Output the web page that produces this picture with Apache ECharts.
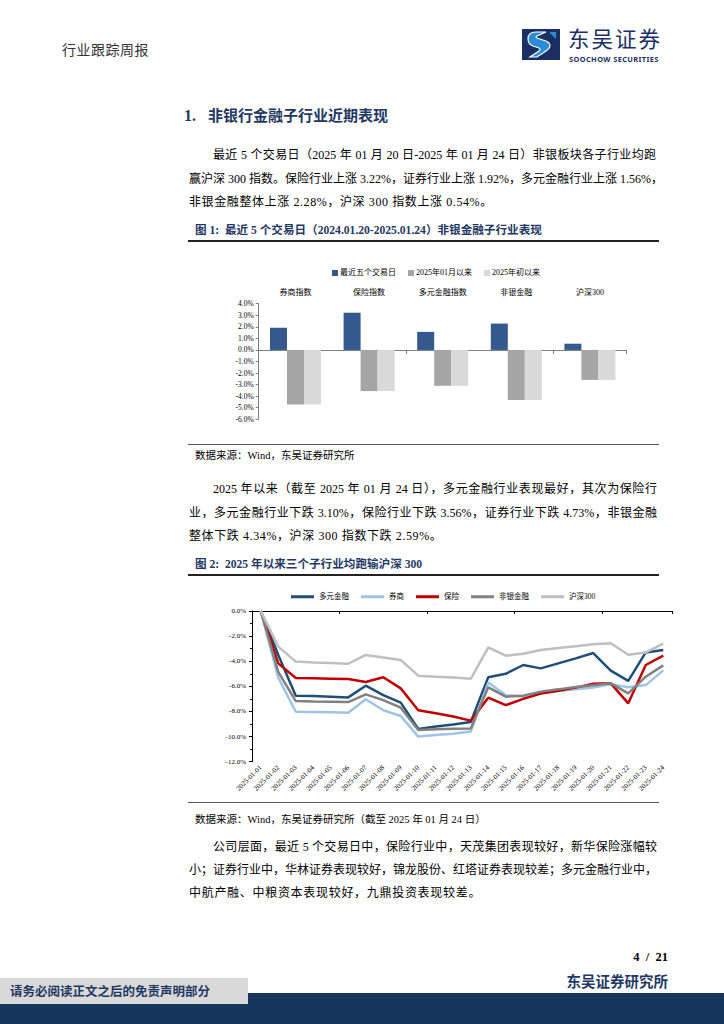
<!DOCTYPE html>
<html><head><meta charset="utf-8">
<script src="https://cdn.jsdelivr.net/npm/echarts@6/dist/echarts.min.js"></script>
<style>
html,body{margin:0;padding:0;background:#fff;}
body{width:724px;height:1024px;position:relative;overflow:hidden;font-family:"Liberation Serif","Noto Sans CJK SC",serif;color:#000;}
.abs{position:absolute;white-space:nowrap;}
.ln{position:absolute;font-size:12px;line-height:16px;height:16px;text-align:justify;text-align-last:justify;white-space:nowrap;}
.cap{position:absolute;font-size:11.6px;font-weight:bold;color:#1F3864;white-space:nowrap;line-height:14px;}
.rule{position:absolute;left:188px;width:471px;background:#222;}
.src{position:absolute;font-size:10.5px;white-space:nowrap;line-height:14px;}
</style></head>
<body>
<div class="abs" style="left:62px;top:39px;font-size:14px;color:#333;letter-spacing:0.5px;">行业跟踪周报</div>
<svg class="abs" style="left:522px;top:29px" width="38" height="31" viewBox="0 0 38 31">
<rect x="0" y="0" width="38" height="31" fill="#1B2F63"/>
<path d="M24 3 L14 3 Q6 3 6 10 Q6 15 11 17 L17 19 Q19 20 17 22 L8 28 L15 28 L24 22 Q30 18 27 14 Q25 12 21 11 L15 9 Q13 8 15 7 Z" fill="#2B8DD6" stroke="#fff" stroke-width="1.2"/>
<path d="M27 3 L34 3 L34 10 Z" fill="#2B8DD6"/>
</svg>
<div class="abs" style="left:568px;top:26px;font-size:21.5px;line-height:24px;height:24px;color:#1B2F63;letter-spacing:2px;font-family:'Noto Sans CJK SC';">东吴证券</div>
<div class="abs" style="left:569px;top:55px;font-size:7.4px;line-height:8px;font-weight:bold;color:#1B2F63;font-family:'Noto Sans','DejaVu Sans';letter-spacing:0.4px;">SOOCHOW SECURITIES</div>

<div class="abs" style="left:184px;top:106px;font-size:15px;line-height:18px;font-weight:bold;color:#1F3864;font-family:'Noto Sans CJK SC';"><span style="font-family:'Liberation Serif';font-size:16px;">1.</span><span style="display:inline-block;width:12px"></span>非银行金融子行业近期表现</div>

<div class="ln" style="left:213px;width:443px;top:147px;">最近 5 个交易日（2025 年 01 月 20 日-2025 年 01 月 24 日）非银板块各子行业均跑</div>
<div class="ln" style="left:189px;width:467px;top:171px;">赢沪深 300 指数。保险行业上涨 3.22%，证券行业上涨 1.92%，多元金融行业上涨 1.56%，</div>
<div class="abs" style="left:189px;top:194px;font-size:12px;line-height:16px;letter-spacing:0.6px;">非银金融整体上涨 2.28%，沪深 300 指数上涨 0.54%。</div>

<div class="cap" style="left:195px;top:224px;">图 1:&nbsp; 最近 5 个交易日（2024.01.20-2025.01.24）非银金融子行业表现</div>
<div class="rule" style="top:240px;height:1.5px;"></div>
<div id="c1" style="position:absolute;left:180px;top:245px;width:480px;height:195px;"></div>
<div class="rule" style="top:444px;height:1px;background:#555;"></div>
<div class="src" style="left:195px;top:449px;">数据来源：Wind，东吴证券研究所</div>

<div class="ln" style="left:213px;width:444px;top:481px;">2025 年以来（截至 2025 年 01 月 24 日），多元金融行业表现最好，其次为保险行</div>
<div class="ln" style="left:189px;width:468px;top:505px;">业，多元金融行业下跌 3.10%，保险行业下跌 3.56%，证券行业下跌 4.73%，非银金融</div>
<div class="abs" style="left:189px;top:528px;font-size:12px;line-height:16px;letter-spacing:0.6px;">整体下跌 4.34%，沪深 300 指数下跌 2.59%。</div>

<div class="cap" style="left:195px;top:558px;">图 2:&nbsp; 2025 年以来三个子行业均跑输沪深 300</div>
<div class="rule" style="top:574px;height:1.5px;"></div>
<div id="c2" style="position:absolute;left:200px;top:580px;width:480px;height:222px;"></div>
<div class="rule" style="top:802px;height:1px;background:#555;"></div>
<div class="src" style="left:195px;top:813px;">数据来源：Wind，东吴证券研究所（截至 2025 年 01 月 24 日）</div>

<div class="ln" style="left:213px;width:444px;top:839px;">公司层面，最近 5 个交易日中，保险行业中，天茂集团表现较好，新华保险涨幅较</div>
<div class="ln" style="left:189px;width:468px;top:862px;">小；证券行业中，华林证券表现较好，锦龙股份、红塔证券表现较差；多元金融行业中，</div>
<div class="abs" style="left:189px;top:885px;font-size:12px;line-height:16px;letter-spacing:0.7px;">中航产融、中粮资本表现较好，九鼎投资表现较差。</div>

<div class="abs" style="right:56px;top:950px;font-size:12.5px;font-weight:bold;line-height:15px;">4&nbsp;&nbsp;/&nbsp;&nbsp;21</div>
<div class="abs" style="right:56px;top:972px;font-size:14.5px;font-weight:bold;color:#1F3864;line-height:18px;font-family:'Noto Sans CJK SC';">东吴证券研究所</div>
<div class="abs" style="left:0;top:993px;width:724px;height:31px;background:#17365D;"></div>
<div class="abs" style="left:0;top:978px;width:248px;height:26px;background:#D9D9D9;"></div>
<div class="abs" style="left:10px;top:983px;font-size:12.5px;line-height:16px;font-weight:bold;color:#1F3864;font-family:'Noto Sans CJK SC';">请务必阅读正文之后的免责声明部分</div>

<script>
// ---- Figure 1 data ----
var barCategories = ['券商指数', '保险指数', '多元金融指数', '非银金融', '沪深300'];
var barSeriesNames = ['最近五个交易日', '2025年01月以来', '2025年初以来'];
var recent5 = [1.92, 3.22, 1.56, 2.28, 0.54];
var sinceJan = [-4.73, -3.56, -3.10, -4.34, -2.59];
var sinceYearStart = [-4.73, -3.56, -3.10, -4.34, -2.59];
var barYTicks = {min: -6, max: 4, interval: 1};

// ---- Figure 2 data ----
var dates = ['2025-01-01','2025-01-02','2025-01-03','2025-01-04','2025-01-05','2025-01-06','2025-01-07','2025-01-08','2025-01-09','2025-01-10','2025-01-11','2025-01-12','2025-01-13','2025-01-14','2025-01-15','2025-01-16','2025-01-17','2025-01-18','2025-01-19','2025-01-20','2025-01-21','2025-01-22','2025-01-23','2025-01-24'];
var lineNames = ['多元金融', '券商', '保险', '非银金融', '沪深300'];
var diversified = [0, -3.5, -6.74, -6.77, -6.82, -6.88, -5.95, -6.7, -7.3, -9.4, -9.2, -9.03, -8.84, -5.28, -5.0, -4.3, -4.57, -4.17, -3.77, -3.35, -4.75, -5.57, -3.3, -3.10];
var brokers = [0, -5.3, -8.02, -8.04, -8.07, -8.1, -7.03, -7.9, -8.36, -10.0, -9.88, -9.77, -9.6, -5.7, -6.7, -6.8, -6.55, -6.37, -6.24, -6.1, -5.84, -6.08, -5.9, -4.73];
var insurance = [0, -4.17, -5.34, -5.36, -5.39, -5.42, -5.65, -5.28, -6.16, -7.9, -8.15, -8.4, -8.73, -6.9, -7.5, -7.0, -6.58, -6.35, -6.1, -5.8, -5.76, -7.35, -4.3, -3.56];
var nonBank = [0, -4.85, -7.17, -7.2, -7.22, -7.25, -6.64, -7.1, -7.7, -9.48, -9.42, -9.37, -9.35, -6.08, -6.82, -6.74, -6.42, -6.24, -6.05, -5.92, -5.76, -6.56, -5.23, -4.33];
var csi300 = [0, -2.84, -4.03, -4.1, -4.15, -4.2, -3.5, -3.7, -3.9, -5.15, -5.23, -5.3, -5.4, -2.9, -3.56, -3.4, -3.1, -2.95, -2.8, -2.65, -2.57, -3.48, -3.3, -2.59];
var lineYTicks = {min: -12, max: 0, interval: 2};

var cjk = '"Liberation Serif","Noto Sans CJK SC",serif';

var c1 = echarts.init(document.getElementById('c1'), null, {renderer: 'svg'});
var barColors = ['#35598F', '#A5A5A5', '#D9D9D9'];
var barData = [recent5, sinceJan, sinceYearStart];
c1.setOption({
  animation: false,
  textStyle: {fontFamily: cjk},
  legend: {
    left: 147, top: 19, itemWidth: 6, itemHeight: 6, itemGap: 12, icon: 'rect',
    textStyle: {fontSize: 8, color: '#000', fontFamily: cjk, padding: [0, 0, 0, -3]},
    data: barSeriesNames
  },
  grid: {left: 78.7, top: 58.7, right: 33.3, bottom: 20.7},
  xAxis: [
    {type: 'category', data: barCategories, position: 'bottom',
     axisLine: {show: true, lineStyle: {color: '#7F7F7F', width: 1}},
     axisTick: {show: true, length: 4, lineStyle: {color: '#7F7F7F'}},
     axisLabel: {show: false}},
    {type: 'category', data: barCategories, position: 'top',
     axisLine: {show: false}, axisTick: {show: false},
     axisLabel: {show: true, margin: 7, fontSize: 8, color: '#000', fontFamily: cjk}}
  ],
  yAxis: {
    type: 'value', min: barYTicks.min, max: barYTicks.max, interval: barYTicks.interval,
    axisLine: {show: true, lineStyle: {color: '#7F7F7F'}},
    axisTick: {show: true, length: 3, lineStyle: {color: '#7F7F7F'}},
    splitLine: {show: false},
    axisLabel: {fontSize: 7.5, color: '#000', margin: 5, fontFamily: '"Liberation Serif"', formatter: function (v) { return v.toFixed(1) + '%'; }}
  },
  series: barSeriesNames.map(function (n, i) {
    return {name: n, type: 'bar', xAxisIndex: 0, data: barData[i], barWidth: 17, barGap: '0%',
            itemStyle: {color: barColors[i]}};
  })
});

var c2 = echarts.init(document.getElementById('c2'), null, {renderer: 'svg'});
var lineColors = ['#1F4E79', '#9DC3E6', '#C00000', '#808080', '#BFBFBF'];
var lineData = [diversified, brokers, insurance, nonBank, csi300];
c2.setOption({
  animation: false,
  textStyle: {fontFamily: cjk},
  legend: {
    left: 86, top: 8, itemWidth: 23, itemHeight: 3, itemGap: 12, icon: 'rect',
    textStyle: {fontSize: 7.5, color: '#000', fontFamily: cjk},
    data: lineNames
  },
  grid: {left: 52, top: 31, right: 8, bottom: 40.3},
  xAxis: [
    {type: 'category', data: dates, position: 'top',
     axisLine: {show: true, lineStyle: {color: '#000', width: 1}},
     axisTick: {show: true, inside: true, length: 3, lineStyle: {color: '#000'}},
     axisLabel: {show: false}},
    {type: 'category', data: dates, position: 'bottom',
     axisLine: {show: false, onZero: false}, axisTick: {show: false},
     axisLabel: {show: true, interval: 0, rotate: 45, margin: 5, fontSize: 7, color: '#000', fontFamily: '"Liberation Serif"'}}
  ],
  yAxis: {
    type: 'value', min: lineYTicks.min, max: lineYTicks.max, interval: lineYTicks.interval,
    axisLine: {show: true, lineStyle: {color: '#000'}},
    axisTick: {show: true, length: 3, lineStyle: {color: '#000'}},
    minorTick: {show: true, splitNumber: 2, length: 2, lineStyle: {color: '#000'}},
    splitLine: {show: false},
    axisLabel: {fontSize: 7, color: '#000', margin: 6, fontFamily: '"Liberation Serif"', formatter: function (v) { return v.toFixed(1) + '%'; }}
  },
  series: lineNames.map(function (n, i) {
    return {name: n, type: 'line', xAxisIndex: 0, data: lineData[i], symbol: 'none', smooth: false,
            lineStyle: {color: lineColors[i], width: 2.5}, itemStyle: {color: lineColors[i]}};
  })
});
</script>
</body></html>
